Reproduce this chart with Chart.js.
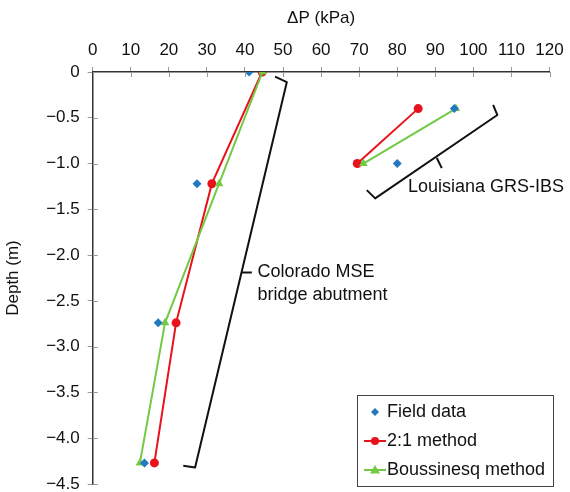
<!DOCTYPE html>
<html>
<head>
<meta charset="utf-8">
<script src="https://cdn.jsdelivr.net/npm/chart.js@4.4.1/dist/chart.umd.min.js"></script>
<style>
  html, body { margin: 0; padding: 0; background: #fff; }
  #wrap { width: 570px; height: 492px; position: relative; }
</style>
</head>
<body>
<div id="wrap"><canvas id="chart"></canvas></div>
<script>
// Depths (m) and pressure increments (kPa)
var depthColorado = [0, -1.22, -2.74, -4.27];
var fieldColorado = [41.1, 27.4, 17.2, 13.6];
var twoOneColorado = [44.5, 31.3, 21.9, 16.2];
var boussColorado = [44.6, 33.2, 19.0, 12.4];

var depthLouisiana = [-0.4, -1.0];
var fieldLouisiana = [95.0, 80.0];
var twoOneLouisiana = [85.5, 69.5];
var boussLouisiana = [95.4, 71.1];

var xTicks = [0, 10, 20, 30, 40, 50, 60, 70, 80, 90, 100, 110, 120];
var yTicks = [0, -0.5, -1.0, -1.5, -2.0, -2.5, -3.0, -3.5, -4.0, -4.5];

var colors = {
    field: '#2379c0',
    twoOne: '#e8121c',
    bouss: '#72c944',
    ink: '#111'
};

function pts(xs, ys) {
    return xs.map(function(v, i) { return { x: v, y: ys[i] }; });
}

// Bracket annotations (data units)
var brackets = [
    { path: [[47.9, -0.05], [51.0, -0.11], [26.9, -4.32], [23.8, -4.30]],
      tick: [[39.0, -2.19], [41.8, -2.19]] },
    { path: [[105.2, -0.36], [106.3, -0.47], [74.2, -1.38], [72.0, -1.29]],
      tick: [[90.4, -0.94], [91.7, -1.05]] }
];
var notes = [
    { x: 43.3, y: -2.18, lines: ['Colorado MSE', 'bridge abutment'] },
    { x: 82.8, y: -1.255, lines: ['Louisiana GRS-IBS'] }
];

var legendItems = [
    { label: 'Field data', color: colors.field, style: 'rectRot', line: false },
    { label: '2:1 method', color: colors.twoOne, style: 'circle', line: true },
    { label: 'Boussinesq method', color: colors.bouss, style: 'triangle', line: true }
];

var font = 'Liberation Sans, Arial, sans-serif';
Chart.defaults.font.family = font;
Chart.defaults.font.size = 17;
Chart.defaults.color = '#111';

function drawMarker(ctx, style, x, y, color) {
    ctx.save();
    ctx.fillStyle = color;
    ctx.beginPath();
    if (style === 'rectRot') {
        ctx.moveTo(x, y - 4); ctx.lineTo(x + 4, y); ctx.lineTo(x, y + 4); ctx.lineTo(x - 4, y);
    } else if (style === 'circle') {
        ctx.arc(x, y, 4, 0, Math.PI * 2);
    } else {
        ctx.moveTo(x, y - 5); ctx.lineTo(x + 5, y + 3.5); ctx.lineTo(x - 5, y + 3.5);
    }
    ctx.closePath();
    ctx.fill();
    ctx.restore();
}

var extras = {
    id: 'extras',
    afterDraw: function(chart) {
        var ctx = chart.ctx, xs = chart.scales.x, ys = chart.scales.y;
        var area = chart.chartArea;
        // inner half of tick marks
        ctx.save();
        ctx.strokeStyle = '#999';
        ctx.lineWidth = 1;
        xTicks.forEach(function(v) {
            var px = Math.round(xs.getPixelForValue(v)) + 0.5;
            ctx.beginPath(); ctx.moveTo(px, area.top); ctx.lineTo(px, area.top + 5); ctx.stroke();
        });
        yTicks.forEach(function(v) {
            var py = Math.round(ys.getPixelForValue(v)) + 0.5;
            ctx.beginPath(); ctx.moveTo(area.left, py); ctx.lineTo(area.left + 5, py); ctx.stroke();
        });
        ctx.restore();

        // brackets
        ctx.save();
        ctx.strokeStyle = colors.ink;
        ctx.lineWidth = 2;
        ctx.lineJoin = 'round';
        brackets.forEach(function(b) {
            ctx.beginPath();
            b.path.forEach(function(p, i) {
                var px = xs.getPixelForValue(p[0]), py = ys.getPixelForValue(p[1]);
                if (i === 0) ctx.moveTo(px, py); else ctx.lineTo(px, py);
            });
            ctx.stroke();
            ctx.beginPath();
            ctx.moveTo(xs.getPixelForValue(b.tick[0][0]), ys.getPixelForValue(b.tick[0][1]));
            ctx.lineTo(xs.getPixelForValue(b.tick[1][0]), ys.getPixelForValue(b.tick[1][1]));
            ctx.stroke();
        });
        ctx.fillStyle = '#111';
        ctx.font = '18px ' + font;
        ctx.textBaseline = 'middle';
        ctx.textAlign = 'left';
        notes.forEach(function(n) {
            var px = xs.getPixelForValue(n.x), py = ys.getPixelForValue(n.y);
            n.lines.forEach(function(t, i) { ctx.fillText(t, px, py + i * 23.5); });
        });
        ctx.restore();

        // legend box
        ctx.save();
        var bx = 357.5, by = 395.5, bw = 196, bh = 91;
        ctx.fillStyle = '#fff';
        ctx.fillRect(bx, by, bw, bh);
        ctx.strokeStyle = '#444';
        ctx.lineWidth = 1;
        ctx.strokeRect(bx, by, bw, bh);
        ctx.font = '18px ' + font;
        ctx.textBaseline = 'middle';
        legendItems.forEach(function(it, i) {
            var cy = 412 + i * 29;
            if (it.line) {
                ctx.strokeStyle = it.color;
                ctx.lineWidth = 2;
                ctx.beginPath(); ctx.moveTo(364, cy); ctx.lineTo(386, cy); ctx.stroke();
            }
            drawMarker(ctx, it.style, 375, cy, it.color);
            ctx.fillStyle = '#111';
            ctx.fillText(it.label, 387, cy);
        });
        ctx.restore();
    }
};

function lineSet(label, data, color, style, radius) {
    return {
        label: label,
        data: data,
        showLine: true,
        borderColor: color,
        backgroundColor: color,
        borderWidth: 2,
        pointStyle: style,
        pointRadius: radius,
        pointBorderWidth: 0,
        tension: 0
    };
}
function fieldSet(data) {
    return {
        label: 'Field data',
        data: data,
        showLine: false,
        backgroundColor: colors.field,
        borderColor: colors.field,
        pointStyle: 'rectRot',
        pointRadius: 4.5,
        pointBorderWidth: 0
    };
}

new Chart(document.getElementById('chart'), {
    type: 'scatter',
    data: {
        datasets: [
            fieldSet(pts(fieldColorado, depthColorado)),
            fieldSet(pts(fieldLouisiana, depthLouisiana)),
            lineSet('Boussinesq method', pts(boussColorado, depthColorado), colors.bouss, 'triangle', 5),
            lineSet('Boussinesq method', pts(boussLouisiana, depthLouisiana), colors.bouss, 'triangle', 5),
            lineSet('2:1 method', pts(twoOneColorado, depthColorado), colors.twoOne, 'circle', 4.5),
            lineSet('2:1 method', pts(twoOneLouisiana, depthLouisiana), colors.twoOne, 'circle', 4.5)
        ]
    },
    options: {
        responsive: true,
        maintainAspectRatio: false,
        animation: false,
        layout: { padding: { top: 0, left: 0, right: 20.5, bottom: 8 } },
        plugins: { legend: { display: false }, tooltip: { enabled: false } },
        scales: {
            x: {
                type: 'linear',
                position: 'top',
                min: 0, max: 120,
                afterBuildTicks: function(s) { s.ticks = xTicks.map(function(v) { return { value: v }; }); },
                afterFit: function(s) { s.height = 72; s.paddingLeft = 0; s.paddingRight = 0; },
                ticks: { padding: 6, color: '#111', maxRotation: 0 },
                grid: { display: true, drawOnChartArea: false, drawTicks: true, tickLength: 5, color: '#999' },
                border: { display: true, color: '#333', width: 1.5 },
                title: { display: true, text: 'ΔP (kPa)', color: '#111', padding: { top: 8, bottom: 0 } }
            },
            y: {
                type: 'linear',
                min: -4.5, max: 0,
                afterBuildTicks: function(s) { s.ticks = yTicks.map(function(v) { return { value: v }; }); },
                afterFit: function(s) { s.width = 92.7; s.paddingTop = 0; s.paddingBottom = 0; },
                ticks: {
                    padding: 8, color: '#111',
                    callback: function(v) { return v === 0 ? '0' : '\u2212' + Math.abs(v).toFixed(1); }
                },
                grid: { display: true, drawOnChartArea: false, drawTicks: true, tickLength: 5, color: '#999' },
                border: { display: true, color: '#333', width: 1.5 },
                title: { display: true, text: 'Depth (m)', color: '#111', padding: { top: 3, bottom: 0 } }
            }
        }
    },
    plugins: [extras]
});
</script>
</body>
</html>
